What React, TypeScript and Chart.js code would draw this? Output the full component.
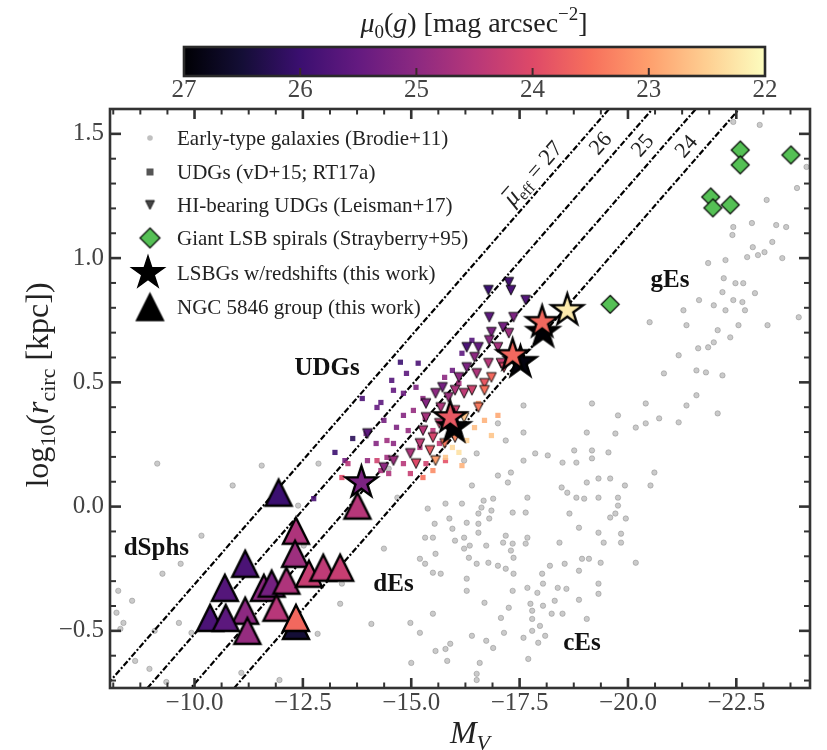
import React, { useEffect, useRef } from 'react';
import { Chart, registerables } from 'chart.js';

Chart.register(...registerables);

// ---------------- axes ----------------
const X_MIN = -24.2;
const X_MAX = -8.05;
const Y_MIN = -0.73;
const Y_MAX = 1.6;
const X_TICKS = [-10, -12.5, -15, -17.5, -20, -22.5];
const Y_TICKS = [-0.5, 0, 0.5, 1.0, 1.5];
const CBAR_TICKS = [27, 26, 25, 24, 23, 22];

// constant mean surface brightness lines: endpoints (M_V, log r)
const MU_LEVELS = ['27', '26', '25', '24'];
const MU_LINE_M = [-8, -25];
const MU_LINE_LOGR = [
  [-0.713, 2.687],
  [-0.913, 2.487],
  [-1.113, 2.287],
  [-1.313, 2.087],
];
const MU_LABEL_POS = [
  [-17.93, 1.355],
  [-19.48, 1.476],
  [-20.45, 1.468],
  [-21.46, 1.464],
];

const REGION_LABELS = ['UDGs', 'dSphs', 'dEs', 'cEs', 'gEs'];
const REGION_POS = [
  [-13.06, 0.556],
  [-9.12, -0.169],
  [-14.59, -0.315],
  [-18.94, -0.552],
  [-20.97, 0.911],
];

const LEGEND_LABELS = [
  'Early-type galaxies (Brodie+11)',
  'UDGs (vD+15; RT17a)',
  'HI-bearing UDGs (Leisman+17)',
  'Giant LSB spirals (Strayberry+95)',
  'LSBGs w/redshifts (this work)',
  'NGC 5846 group (this work)',
];

// ---------------- data ----------------
// Early-type galaxies (Brodie+11): [M_V, log10 r]
const ETG: [number, number][] = [
  [-22.43, 1.548], [-23.04, 1.536], [-24.12, 1.367], [-23.9, 1.282], [-23.2, 1.234], [-22.43, 1.125],
  [-22.86, 1.141], [-23.42, 1.133], [-23.65, 1.125], [-22.41, 1.093], [-22.88, 1.044], [-23.33, 1.065],
  [-23.15, 1.024], [-22.75, 1.004], [-23.0, 1.012], [-23.56, 1.0], [-22.25, 0.992], [-21.85, 0.98],
  [-22.21, 0.919], [-22.48, 0.899], [-22.66, 0.899], [-22.93, 0.859], [-22.18, 0.863], [-22.43, 0.831],
  [-22.64, 0.823], [-21.64, 0.831], [-21.98, 0.81], [-22.25, 0.79], [-21.28, 0.79], [-22.7, 0.79],
  [-21.35, 0.73], [-22.55, 0.73], [-23.22, 0.73], [-22.07, 0.71], [-22.36, 0.681], [-20.5, 0.742],
  [-21.98, 0.661], [-21.85, 0.641], [-21.62, 0.637], [-21.17, 0.609], [-21.58, 0.548], [-20.83, 0.536],
  [-21.8, 0.54], [-22.18, 0.528], [-21.58, 0.448], [-23.94, 0.762],
  [-17.59, 0.407], [-19.17, 0.415], [-20.41, 0.415], [-21.35, 0.407], [-22.07, 0.375], [-19.77, 0.367],
  [-20.41, 0.335], [-20.72, 0.355], [-21.17, 0.339], [-20.18, 0.318], [-17.0, 0.335], [-17.59, 0.298],
  [-19.05, 0.298], [-19.71, 0.294], [-17.18, 0.266], [-18.76, 0.226], [-19.17, 0.226], [-19.55, 0.218],
  [-17.86, 0.214], [-18.15, 0.206], [-17.59, 0.185], [-18.49, 0.177], [-18.81, 0.177], [-19.17, 0.194],
  [-16.22, 0.185], [-16.51, 0.214], [-20.61, 0.137], [-17.0, 0.125], [-17.3, 0.137], [-17.23, 0.097],
  [-16.4, 0.085], [-19.32, 0.113], [-19.59, 0.113], [-19.05, 0.097], [-19.93, 0.085], [-20.52, 0.085],
  [-18.47, 0.077], [-18.6, 0.056], [-17.68, 0.036], [-18.81, 0.036], [-18.99, 0.032], [-19.32, 0.036],
  [-19.77, 0.036], [-19.77, 0.004], [-16.89, 0.032], [-16.67, 0.024], [-16.17, 0.012], [-15.79, 0.012],
  [-16.62, -0.004], [-16.85, -0.016], [-15.38, -0.008], [-17.34, -0.024], [-17.64, -0.024], [-18.65, -0.028],
  [-19.71, -0.028], [-19.59, -0.044], [-19.95, -0.048], [-16.55, -0.028], [-16.8, -0.048], [-15.88, -0.048],
  [-15.54, -0.069], [-16.28, -0.065], [-16.55, -0.069], [-18.87, -0.085], [-15.95, -0.089], [-16.55, -0.105],
  [-15.32, -0.125], [-15.5, -0.125], [-16.22, -0.125], [-17.18, -0.117], [-17.68, -0.125], [-19.32, -0.105],
  [-19.84, -0.109], [-19.84, -0.145], [-16.01, -0.137], [-16.35, -0.157], [-16.73, -0.157], [-17.12, -0.145],
  [-17.34, -0.149], [-17.64, -0.149], [-18.42, -0.145], [-19.44, -0.145], [-16.22, -0.169], [-17.3, -0.177],
  [-15.56, -0.19], [-15.2, -0.21], [-15.32, -0.23], [-16.33, -0.206], [-16.51, -0.23], [-16.78, -0.226],
  [-17.0, -0.238], [-17.18, -0.25], [-17.36, -0.206], [-18.2, -0.238], [-18.54, -0.23], [-18.94, -0.21],
  [-19.1, -0.21], [-19.37, -0.226], [-20.18, -0.226], [-15.5, -0.266], [-15.68, -0.27], [-16.28, -0.29],
  [-17.36, -0.27], [-18.02, -0.27], [-18.87, -0.258], [-18.04, -0.31], [-18.38, -0.327], [-18.58, -0.331],
  [-19.32, -0.31], [-16.28, -0.339], [-17.34, -0.339], [-17.68, -0.327], [-17.91, -0.347], [-19.32, -0.351],
  [-16.69, -0.387], [-17.75, -0.391], [-18.04, -0.399], [-18.31, -0.379], [-18.87, -0.375], [-15.5, -0.431],
  [-17.25, -0.407], [-17.79, -0.419], [-18.24, -0.431], [-18.49, -0.431], [-17.07, -0.448], [-17.79, -0.452],
  [-19.05, -0.452], [-14.98, -0.468], [-17.97, -0.48], [-15.2, -0.508], [-16.4, -0.52], [-17.14, -0.508],
  [-17.59, -0.528], [-17.79, -0.5], [-18.09, -0.52], [-15.9, -0.552], [-16.73, -0.54], [-16.89, -0.569],
  [-17.93, -0.548], [-15.56, -0.581], [-15.79, -0.573], [-15.0, -0.629], [-15.83, -0.621], [-16.58, -0.629],
  [-17.7, -0.613], [-16.51, -0.673],
  [-9.14, 0.173], [-11.55, 0.165], [-10.88, 0.085], [-12.39, 0.004], [-10.16, -0.117], [-9.68, -0.23],
  [-9.26, -0.27], [-8.56, -0.379], [-9.64, -0.468], [-8.36, -0.468], [-9.08, -0.5], [-9.93, -0.508],
  [-12.84, -0.512], [-13.4, -0.31], [-13.36, -0.391], [-14.08, -0.472], [-14.37, -0.169], [-12.52, -0.157],
  [-12.86, 0.173], [-8.24, -0.339], [-8.2, -0.427], [-8.29, -0.492], [-8.63, -0.621], [-8.96, -0.653],
  [-9.35, -0.706], [-11.08, -0.669], [-11.96, -0.698], [-16.51, -0.698], [-14.48, 0.153], [-14.68, 0.036],
];

// UDGs (vD+15; RT17a): [M_V, log10 r, mu0(g)]
const UDG_SQ: [number, number, number][] = [
  [-14.75, 0.581, 26.0], [-15.16, 0.577, 25.8], [-14.89, 0.536, 25.6], [-14.55, 0.508, 25.7], [-14.59, 0.468, 25.5],
  [-14.3, 0.419, 25.6], [-14.82, 0.456, 25.4], [-15.11, 0.48, 25.2], [-15.27, 0.435, 25.0], [-13.87, 0.435, 25.8],
  [-14.21, 0.399, 25.5], [-13.65, 0.274, 26.2], [-13.96, 0.294, 25.4], [-14.19, 0.254, 25.1], [-13.24, 0.218, 26.0],
  [-13.47, 0.185, 25.3], [-13.99, 0.185, 24.9], [-14.44, 0.198, 24.8], [-14.59, 0.254, 25.0], [-14.93, 0.306, 24.9],
  [-14.66, 0.319, 25.2], [-14.37, 0.347, 25.3], [-14.82, 0.367, 25.1], [-15.05, 0.387, 24.9], [-15.32, 0.359, 24.7],
  [-15.5, 0.306, 24.5], [-15.65, 0.254, 24.4], [-15.2, 0.238, 24.6], [-14.82, 0.173, 24.5], [-15.34, 0.173, 24.2],
  [-15.79, 0.185, 23.9], [-14.98, 0.133, 24.3], [-14.3, 0.145, 24.7], [-15.95, 0.548, 25.4], [-15.77, 0.52, 25.0],
  [-16.1, 0.496, 24.7], [-16.55, 0.415, 23.0], [-16.69, 0.347, 22.8], [-16.85, 0.286, 22.6], [-16.46, 0.318, 22.7],
  [-16.28, 0.266, 22.5], [-15.95, 0.238, 22.4], [-15.79, 0.198, 22.6], [-16.1, 0.218, 22.3], [-17.0, 0.367, 22.9],
  [-16.17, 0.165, 22.8], [-15.5, 0.145, 23.2], [-15.27, 0.117, 23.5], [-16.17, 0.617, 25.6], [-16.4, 0.669, 25.7],
  [-12.75, 0.032, 25.8], [-13.4, 0.117, 24.0], [-13.54, 0.173, 24.5], [-14.44, 0.266, 24.8], [-14.48, 0.133, 24.6],
  [-14.21, 0.185, 24.2],
];

// HI-bearing UDGs (Leisman+17): [M_V, log10 r, mu0(g)]
const HI_UDG: [number, number, number][] = [
  [-16.78, 0.871, 26.0], [-17.25, 0.903, 25.9], [-17.3, 0.871, 25.8], [-17.64, 0.831, 25.7], [-16.8, 0.762, 25.6],
  [-17.12, 0.722, 25.3], [-17.36, 0.762, 25.2], [-17.25, 0.698, 24.8], [-16.85, 0.702, 25.2], [-16.8, 0.669, 25.0],
  [-17.0, 0.641, 24.7], [-16.55, 0.641, 25.5], [-16.28, 0.641, 25.8], [-16.46, 0.601, 25.0], [-16.78, 0.577, 24.5],
  [-17.07, 0.577, 24.3], [-16.28, 0.56, 25.2], [-16.51, 0.536, 24.6], [-16.1, 0.52, 25.0], [-15.72, 0.48, 25.3],
  [-16.01, 0.468, 24.6], [-16.4, 0.468, 24.2], [-16.69, 0.496, 23.8], [-16.85, 0.52, 23.6], [-15.56, 0.456, 25.0],
  [-17.14, 0.56, 24.0], [-15.86, 0.44, 24.8], [-16.22, 0.456, 24.4], [-15.68, 0.399, 24.6], [-15.34, 0.415, 25.1],
  [-16.01, 0.387, 24.2], [-15.34, 0.359, 24.7], [-16.22, 0.359, 22.6], [-15.65, 0.335, 24.3], [-15.9, 0.319, 23.9],
  [-15.27, 0.306, 24.5], [-15.5, 0.278, 24.1], [-15.77, 0.254, 23.4], [-16.01, 0.278, 23.2], [-15.2, 0.254, 24.4],
  [-15.43, 0.226, 23.8], [-14.98, 0.214, 24.6], [-15.11, 0.173, 24.0], [-15.56, 0.185, 23.0], [-14.59, 0.185, 24.8],
  [-14.37, 0.157, 25.0], [-16.1, 0.319, 22.4], [-16.55, 0.399, 23.4], [-16.69, 0.468, 23.5], [-13.99, 0.294, 25.6],
];

// Giant LSB spirals (Sprayberry+95): [M_V, log10 r]
const GIANT_LSB: [number, number][] = [
  [-22.59, 1.435], [-22.59, 1.375], [-23.76, 1.415], [-21.91, 1.246], [-21.96, 1.202], [-22.36, 1.214], [-19.59, 0.814],
];

// LSBGs with redshifts (this work): [M_V, log10 r, mu0(g)]
const LSBG_STARS: [number, number, number][] = [
  [-18.04, 0.702, 27.0], [-18.02, 0.742, 23.6], [-18.6, 0.79, 22.2], [-17.52, 0.581, 26.9],
  [-17.34, 0.609, 23.6], [-15.99, 0.319, 27.0], [-15.9, 0.359, 23.8], [-13.85, 0.097, 25.2],
];

// NGC 5846 group (this work): [M_V, log10 r, mu0(g)]
const NGC5846: [number, number, number][] = [
  [-11.94, 0.056, 26.0], [-12.34, -0.097, 24.6], [-12.32, -0.19, 24.8], [-11.17, -0.23, 25.8], [-10.7, -0.327, 25.7],
  [-11.6, -0.327, 25.0], [-11.78, -0.31, 25.3], [-12.12, -0.298, 24.6], [-11.89, -0.407, 24.5], [-11.17, -0.419, 25.0],
  [-10.36, -0.448, 25.8], [-10.72, -0.448, 25.6], [-11.22, -0.5, 24.9], [-12.34, -0.48, 26.5], [-12.34, -0.448, 23.6],
  [-12.64, -0.27, 24.3], [-12.97, -0.246, 24.4], [-13.36, -0.246, 24.3], [-13.76, 0.004, 24.5],
];

// ---------------- styling helpers ----------------
const MAGMA = ['#000004', '#140e36', '#3b0f70', '#641a80', '#8c2981', '#b73779', '#de4968', '#f7705c', '#fe9f6d', '#fecf92', '#fcfdbf'];
const SERIF = '"Liberation Serif", "Times New Roman", serif';
const TXT = '#222';
const AX = '#333';
const TICK_TXT = '#444';

function hexRgb(h: string) {
  return [parseInt(h.slice(1, 3), 16), parseInt(h.slice(3, 5), 16), parseInt(h.slice(5, 7), 16)];
}
function muColor(mu: number, a = 1) {
  const t = Math.min(1, Math.max(0, (27 - mu) / 5)) * 10;
  const i = Math.min(9, Math.floor(t));
  const f = t - i;
  const c0 = hexRgb(MAGMA[i]);
  const c1 = hexRgb(MAGMA[i + 1]);
  const c = c0.map((v, k) => Math.round(v + (c1[k] - v) * f));
  return `rgba(${c[0]},${c[1]},${c[2]},${a})`;
}

function pathMarker(g: CanvasRenderingContext2D, kind: string, x: number, y: number, h: number) {
  g.beginPath();
  if (kind === 'star') {
    for (let i = 0; i < 10; i++) {
      const r = i % 2 === 0 ? h : h * 0.382;
      const ang = -Math.PI / 2 + (i * Math.PI) / 5;
      const px = x + r * Math.cos(ang);
      const py = y + r * Math.sin(ang);
      if (i === 0) g.moveTo(px, py);
      else g.lineTo(px, py);
    }
  } else if (kind === 'tri') {
    g.moveTo(x, y - h);
    g.lineTo(x + h, y + h);
    g.lineTo(x - h, y + h);
  } else if (kind === 'dtri') {
    g.moveTo(x, y + h);
    g.lineTo(x + h, y - h);
    g.lineTo(x - h, y - h);
  } else if (kind === 'diamond') {
    g.moveTo(x, y - h);
    g.lineTo(x + h, y);
    g.lineTo(x, y + h);
    g.lineTo(x - h, y);
  }
  g.closePath();
}

const markerCache = new Map<string, HTMLCanvasElement>();
function marker(kind: string, fill: string, h: number, lw: number) {
  const key = `${kind}|${fill}|${h}|${lw}`;
  const hit = markerCache.get(key);
  if (hit) return hit;
  const c = document.createElement('canvas');
  const S = Math.ceil(2 * (h + 2 * lw) + 4);
  c.width = S;
  c.height = S;
  const g = c.getContext('2d')!;
  g.lineJoin = 'miter';
  g.miterLimit = 4;
  pathMarker(g, kind, S / 2, S / 2, h);
  g.fillStyle = fill;
  g.fill();
  if (lw > 0) {
    g.lineWidth = lw;
    g.strokeStyle = '#000';
    g.stroke();
  }
  markerCache.set(key, c);
  return c;
}

type Piece = { t: string; f: string; dy?: number };
function drawRich(ctx: CanvasRenderingContext2D, pieces: Piece[], cx: number, cy: number, rot: number) {
  ctx.save();
  ctx.translate(cx, cy);
  ctx.rotate(rot);
  ctx.textBaseline = 'alphabetic';
  ctx.textAlign = 'left';
  let w = 0;
  for (const p of pieces) {
    ctx.font = p.f;
    w += ctx.measureText(p.t).width;
  }
  let x = -w / 2;
  for (const p of pieces) {
    ctx.font = p.f;
    ctx.fillText(p.t, x, p.dy || 0);
    x += ctx.measureText(p.t).width;
  }
  ctx.restore();
}

function fmtTick(v: number) {
  const s = Math.abs(v).toFixed(1);
  return v < -1e-9 ? '\u2212' + s : s;
}

const CB = { left: 184, right: 765, top: 47, bottom: 76 };

const decorPlugin = {
  id: 'decor',
  beforeDraw(chart: any) {
    const ctx = chart.ctx;
    ctx.save();
    ctx.fillStyle = '#fff';
    ctx.fillRect(0, 0, chart.width, chart.height);
    ctx.restore();
  },
  afterDraw(chart: any) {
    const ctx: CanvasRenderingContext2D = chart.ctx;
    const { left, right, top, bottom } = chart.chartArea;
    const xs = chart.scales.x;
    const ys = chart.scales.y;
    ctx.save();

    // ---- ticks (inward, all sides) ----
    ctx.strokeStyle = AX;
    const tick = (x1: number, y1: number, x2: number, y2: number, w: number) => {
      ctx.lineWidth = w;
      ctx.beginPath();
      ctx.moveTo(x1, y1);
      ctx.lineTo(x2, y2);
      ctx.stroke();
    };
    for (const v of X_TICKS) {
      const p = xs.getPixelForValue(v);
      tick(p, bottom, p, bottom - 10, 2.6);
      tick(p, top, p, top + 10, 2.6);
    }
    for (let k = 0; k < 40; k++) {
      const v = -7.5 - k * 0.625;
      if (v < X_MIN) break;
      if (v > X_MAX) continue;
      if (Math.abs(v / 2.5 - Math.round(v / 2.5)) < 1e-6) continue;
      const p = xs.getPixelForValue(v);
      tick(p, bottom, p, bottom - 5.5, 2);
      tick(p, top, p, top + 5.5, 2);
    }
    for (const v of Y_TICKS) {
      const p = ys.getPixelForValue(v);
      tick(left, p, left + 11, p, 2.6);
      tick(right, p, right - 11, p, 2.6);
    }
    for (let k = -7; k <= 16; k++) {
      const v = k / 10;
      if (v < Y_MIN || v > Y_MAX) continue;
      if (k % 5 === 0) continue;
      const p = ys.getPixelForValue(v);
      tick(left, p, left + 6, p, 2);
      tick(right, p, right - 6, p, 2);
    }
    // frame
    ctx.lineWidth = 2.6;
    ctx.strokeRect(left, top, right - left, bottom - top);

    // ---- mu_eff line labels ----
    ctx.fillStyle = TXT;
    const p0x = xs.getPixelForValue(MU_LINE_M[0]);
    const p0y = ys.getPixelForValue(MU_LINE_LOGR[0][0]);
    const p1x = xs.getPixelForValue(MU_LINE_M[1]);
    const p1y = ys.getPixelForValue(MU_LINE_LOGR[0][1]);
    const ang = Math.atan2(p1y - p0y, p1x - p0x);
    MU_LEVELS.forEach((lab, i) => {
      const cx = xs.getPixelForValue(MU_LABEL_POS[i][0]);
      const cy = ys.getPixelForValue(MU_LABEL_POS[i][1]);
      if (i === 0) {
        drawRich(ctx, [
          { t: '\u03bc', f: `italic 24px ${SERIF}` },
          { t: 'eff', f: `16px ${SERIF}`, dy: 5 },
          { t: ' = ' + lab, f: `23px ${SERIF}` },
        ], cx, cy + 8, ang);
        // macron over mu
        ctx.save();
        ctx.translate(cx, cy + 8);
        ctx.rotate(ang);
        ctx.font = `italic 24px ${SERIF}`;
        const wMu = ctx.measureText('\u03bc').width;
        ctx.font = `16px ${SERIF}`;
        const wE = ctx.measureText('eff').width;
        ctx.font = `23px ${SERIF}`;
        const wR = ctx.measureText(' = ' + lab).width;
        const x0 = -(wMu + wE + wR) / 2;
        ctx.lineWidth = 1.4;
        ctx.strokeStyle = TXT;
        ctx.beginPath();
        ctx.moveTo(x0 + 2, -17);
        ctx.lineTo(x0 + wMu + 1, -17);
        ctx.stroke();
        ctx.restore();
      } else {
        drawRich(ctx, [{ t: lab, f: `22px ${SERIF}` }], cx, cy + 8, ang);
      }
    });

    // ---- region labels ----
    ctx.fillStyle = '#111';
    ctx.font = `bold 25px ${SERIF}`;
    ctx.textAlign = 'center';
    ctx.textBaseline = 'middle';
    REGION_LABELS.forEach((lab, i) => {
      ctx.fillText(lab, xs.getPixelForValue(REGION_POS[i][0]), ys.getPixelForValue(REGION_POS[i][1]));
    });

    // ---- legend ----
    const rows = [138, 172, 205, 238, 273, 307];
    const mx = 150;
    ctx.beginPath();
    ctx.arc(mx, rows[0], 2.8, 0, Math.PI * 2);
    ctx.fillStyle = 'rgba(150,150,150,0.6)';
    ctx.fill();
    ctx.fillStyle = '#555';
    ctx.fillRect(mx - 3.5, rows[1] - 3.5, 7, 7);
    const drawM = (c: HTMLCanvasElement, x: number, y: number) => ctx.drawImage(c, x - c.width / 2, y - c.height / 2);
    drawM(marker('dtri', '#444', 4.5, 0.8), mx, rows[2]);
    drawM(marker('diamond', '#55c055', 10, 1.2), mx, rows[3]);
    drawM(marker('star', '#000', 17, 1.5), mx - 2, rows[4]);
    drawM(marker('tri', '#000', 13.5, 1.5), mx, rows[5]);
    ctx.fillStyle = TXT;
    ctx.font = `21px ${SERIF}`;
    ctx.textAlign = 'left';
    ctx.textBaseline = 'middle';
    LEGEND_LABELS.forEach((t, i) => ctx.fillText(t, 177, rows[i] + 1));

    // ---- axis titles ----
    ctx.fillStyle = TXT;
    drawRich(ctx, [
      { t: 'log', f: `32px ${SERIF}` },
      { t: '10', f: `22px ${SERIF}`, dy: 7 },
      { t: '(', f: `32px ${SERIF}` },
      { t: 'r', f: `italic 32px ${SERIF}` },
      { t: 'circ', f: `22px ${SERIF}`, dy: 7 },
      { t: ' [kpc])', f: `32px ${SERIF}` },
    ], 48, 385, -Math.PI / 2);
    drawRich(ctx, [
      { t: 'M', f: `italic 32px ${SERIF}` },
      { t: 'V', f: `italic 22px ${SERIF}`, dy: 7 },
    ], 470, 743, 0);

    // ---- colour bar ----
    const grad = ctx.createLinearGradient(CB.left, 0, CB.right, 0);
    MAGMA.forEach((c, i) => grad.addColorStop(i / 10, c));
    ctx.fillStyle = grad;
    ctx.fillRect(CB.left, CB.top, CB.right - CB.left, CB.bottom - CB.top);
    ctx.strokeStyle = '#2a2a2a';
    ctx.lineWidth = 2.6;
    ctx.strokeRect(CB.left, CB.top, CB.right - CB.left, CB.bottom - CB.top);
    ctx.lineWidth = 2;
    ctx.font = `25px ${SERIF}`;
    ctx.fillStyle = TICK_TXT;
    ctx.textAlign = 'center';
    ctx.textBaseline = 'middle';
    CBAR_TICKS.forEach((mu) => {
      const px = CB.left + ((27 - mu) / 5) * (CB.right - CB.left);
      if (mu !== 27 && mu !== 22) {
        ctx.strokeStyle = '#3a2a2a';
        ctx.beginPath();
        ctx.moveTo(px, CB.bottom);
        ctx.lineTo(px, CB.bottom - 8);
        ctx.stroke();
      }
      ctx.fillText(String(mu), px, 90);
    });
    ctx.fillStyle = TXT;
    drawRich(ctx, [
      { t: '\u03bc', f: `italic 28px ${SERIF}` },
      { t: '0', f: `19px ${SERIF}`, dy: 6 },
      { t: '(', f: `28px ${SERIF}` },
      { t: 'g', f: `italic 28px ${SERIF}` },
      { t: ') [mag arcsec', f: `28px ${SERIF}` },
      { t: '\u22122', f: `19px ${SERIF}`, dy: -12 },
      { t: ']', f: `28px ${SERIF}` },
    ], 474, 32, 0);

    ctx.restore();
  },
};

export default function App() {
  const ref = useRef<HTMLCanvasElement>(null);
  useEffect(() => {
    const canvas = ref.current;
    if (!canvas) return;
    const xy = (a: number[][]) => a.map((p) => ({ x: p[0], y: p[1] }));
    const lineSets = MU_LINE_LOGR.map((r) => ({
      type: 'scatter' as const,
      data: [
        { x: MU_LINE_M[0], y: r[0] },
        { x: MU_LINE_M[1], y: r[1] },
      ],
      showLine: true,
      borderColor: '#000',
      borderWidth: 2.2,
      borderDash: [6, 2, 2, 2],
      pointRadius: 0,
      order: 9,
    }));
    const chart = new Chart(canvas, {
      type: 'scatter',
      data: {
        datasets: [
          {
            data: xy(ETG),
            pointStyle: 'circle',
            pointRadius: 2.7,
            backgroundColor: 'rgba(150,150,150,0.5)',
            borderColor: 'rgba(115,115,115,0.55)',
            borderWidth: 0.7,
            order: 10,
          } as any,
          ...lineSets,
          {
            data: xy(UDG_SQ),
            pointStyle: 'rect',
            pointRadius: 3.7,
            backgroundColor: UDG_SQ.map((p) => muColor(p[2], 0.9)),
            borderWidth: 0,
            order: 8,
          },
          {
            data: xy(HI_UDG),
            pointStyle: (c: any) => (c.dataIndex == null ? 'circle' : marker('dtri', muColor(HI_UDG[c.dataIndex][2]), 4.8, 0.9)),
            pointRadius: 5,
            order: 7,
          },
          {
            data: xy(GIANT_LSB),
            pointStyle: (c: any) => (c.dataIndex == null ? 'circle' : marker('diamond', '#55c055', 9, 1.2)),
            pointRadius: 9,
            order: 6,
          },
          {
            data: xy(NGC5846),
            pointStyle: (c: any) => (c.dataIndex == null ? 'circle' : marker('tri', muColor(NGC5846[c.dataIndex][2]), 13, 2.4)),
            pointRadius: 13,
            order: 5,
          },
          {
            data: xy(LSBG_STARS),
            pointStyle: (c: any) => (c.dataIndex == null ? 'circle' : marker('star', muColor(LSBG_STARS[c.dataIndex][2]), 16.5, 2.4)),
            pointRadius: 16,
            order: 4,
          },
        ],
      },
      options: {
        animation: false,
        responsive: false,
        maintainAspectRatio: false,
        devicePixelRatio: 1,
        events: [],
        layout: { padding: { top: 109, right: 1, left: 0, bottom: 0 } },
        plugins: { legend: { display: false }, tooltip: { enabled: false } },
        scales: {
          x: {
            type: 'linear',
            min: X_MIN,
            max: X_MAX,
            reverse: true,
            grid: { display: false, drawTicks: false },
            border: { display: false },
            ticks: {
              color: TICK_TXT,
              font: { family: SERIF, size: 25 },
              padding: 0,
              maxRotation: 0,
              autoSkip: false,
              callback: (v: any) => fmtTick(Number(v)),
            },
            afterBuildTicks: (s: any) => {
              s.ticks = X_TICKS.map((v) => ({ value: v }));
            },
            afterFit: (s: any) => {
              s.height = 62;
            },
          },
          y: {
            type: 'linear',
            min: Y_MIN,
            max: Y_MAX,
            grid: { display: false, drawTicks: false },
            border: { display: false },
            ticks: {
              color: TICK_TXT,
              font: { family: SERIF, size: 25 },
              padding: 6,
              autoSkip: false,
              callback: (v: any) => fmtTick(Number(v)),
            },
            afterBuildTicks: (s: any) => {
              s.ticks = Y_TICKS.map((v) => ({ value: v }));
            },
            afterFit: (s: any) => {
              s.width = 110;
            },
          },
        },
      } as any,
      plugins: [decorPlugin as any],
    });
    return () => chart.destroy();
  }, []);

  return (
    <div style={{ position: 'absolute', left: 0, top: 0, width: 827, height: 750, background: '#fff' }}>
      <canvas ref={ref} width={827} height={750} style={{ display: 'block', width: 827, height: 750 }} />
    </div>
  );
}
